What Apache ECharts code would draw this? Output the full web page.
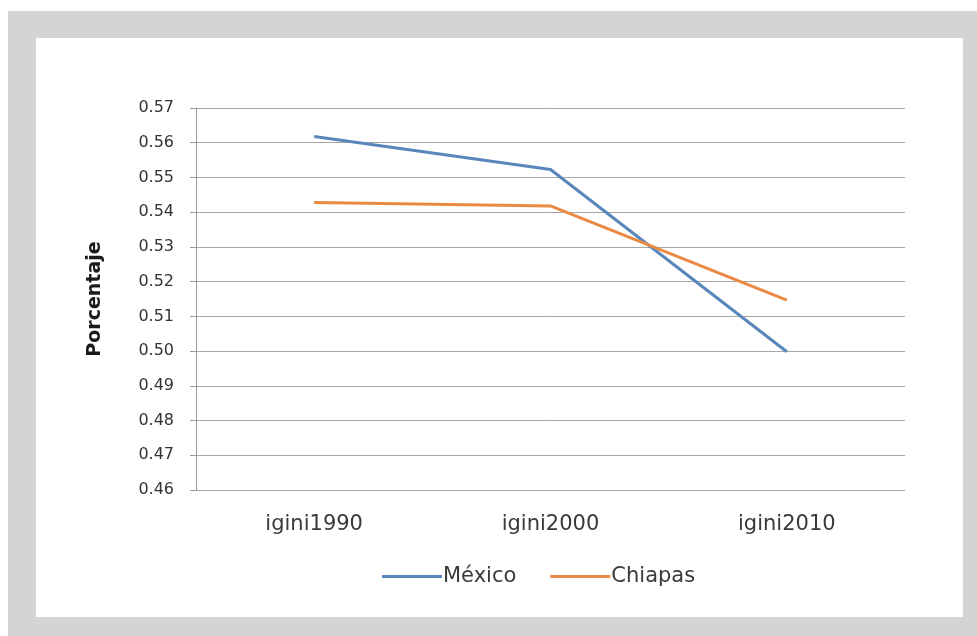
<!DOCTYPE html>
<html>
<head>
<meta charset="utf-8">
<script src="https://cdn.jsdelivr.net/npm/echarts@6/dist/echarts.min.js"></script>
<style>
html,body{margin:0;padding:0;background:#fff;}
#wrap{position:relative;width:977px;height:636px;background:#fff;overflow:hidden;}
#frame{position:absolute;left:8px;top:11px;width:969px;height:625px;background:#d4d4d6;}
#inner{position:absolute;left:36px;top:38px;width:927px;height:579px;background:#fff;}
#chart{position:absolute;left:0;top:0;width:977px;height:636px;}
</style>
</head>
<body>
<div id="wrap">
  <div id="frame"></div>
  <div id="inner"></div>
  <div id="chart"></div>
</div>
<script>
const categories = ['igini1990', 'igini2000', 'igini2010'];
const mexico = [0.5618, 0.5523, 0.4998];
const chiapas = [0.5428, 0.5418, 0.5147];
const yTicks = [0.46, 0.47, 0.48, 0.49, 0.50, 0.51, 0.52, 0.53, 0.54, 0.55, 0.56, 0.57];

const font = 'DejaVu Sans';
const chart = echarts.init(document.getElementById('chart'), null, {renderer: 'canvas'});
chart.setOption({
  backgroundColor: 'transparent',
  animation: false,
  grid: {left: 196, right: 72, top: 108, bottom: 146, containLabel: false},
  legend: {
    left: 382, top: 566, padding: 0,
    icon: 'rect',
    itemWidth: 60, itemHeight: 3, itemGap: 34,
    textStyle: {fontFamily: font, fontSize: 21, color: '#3a3a3a', padding: [0,0,0,-4]},
    data: ['México', 'Chiapas']
  },
  xAxis: {
    type: 'category',
    data: categories,
    boundaryGap: true,
    axisLine: {show: false},
    axisTick: {show: false},
    axisLabel: {fontFamily: font, fontSize: 21, color: '#3a3a3a', margin: 24}
  },
  yAxis: {
    type: 'value',
    min: yTicks[0], max: yTicks[yTicks.length - 1], interval: 0.01,
    name: 'Porcentaje',
    nameLocation: 'middle',
    nameGap: 69,
    nameTextStyle: {fontFamily: font, fontSize: 19, fontWeight: 'bold', color: '#1a1a1a', padding: [0,0,22,0]},
    axisLine: {show: true, lineStyle: {color: '#9a9a9a', width: 1}},
    axisTick: {show: true, length: 6, lineStyle: {color: '#9a9a9a'}},
    axisLabel: {fontFamily: font, fontSize: 16, color: '#333333', margin: 22,
      formatter: v => v.toFixed(2)},
    splitLine: {show: true, lineStyle: {color: '#a6a6a6', width: 1}}
  },
  series: [
    {name: 'México', type: 'line', data: mexico, symbol: 'none',
     lineStyle: {color: '#5a87bb', width: 3}, itemStyle: {color: '#5a87bb'}},
    {name: 'Chiapas', type: 'line', data: chiapas, symbol: 'none',
     lineStyle: {color: '#ea8a43', width: 3}, itemStyle: {color: '#ea8a43'}}
  ]
});
</script>
</body>
</html>
